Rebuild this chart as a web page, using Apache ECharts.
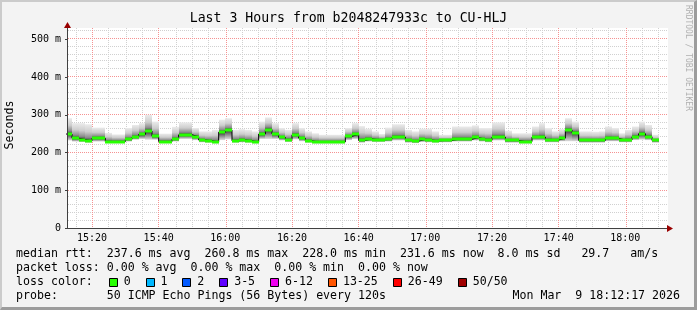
<!DOCTYPE html>
<html><head><meta charset="utf-8">
<script src="https://cdn.jsdelivr.net/npm/echarts@6/dist/echarts.min.js"></script>
<style>
html,body{margin:0;padding:0;background:#f3f3f3;}
#c{width:697px;height:310px;position:absolute;left:0;top:0;}
#frame{position:absolute;left:0;top:0;width:697px;height:310px;box-sizing:border-box;border-style:solid;border-width:2px 3px 3px 2px;border-color:#cbcbcb #9c9c9c #9c9c9c #cbcbcb;pointer-events:none;}
</style>
</head><body><div id="c"></div><div id="frame"></div>
<script>
// ---------------- data ----------------
const titleText = 'Last 3 Hours from b2048247933c to CU-HLJ';
const yAxisTitle = 'Seconds';
const watermark = 'RRDTOOL / TOBI OETIKER';
const firstSegmentStart = 12;   // minutes after 15:00
const stepMinutes = 2;
const xMin = 12.5;              // left edge of plot (minutes after 15:00)
const xMax = xMin + 180;        // 3 hours
const xTickValues = [20, 40, 60, 80, 100, 120, 140, 160, 180];
const xTickLabels = ['15:20', '15:40', '16:00', '16:20', '16:40', '17:00', '17:20', '17:40', '18:00'];
const yTickValues = [0, 100, 200, 300, 400, 500];
const yTickLabels = ['0', '100 m', '200 m', '300 m', '400 m', '500 m'];

// median rtt (ms) per 2-minute step
const median = [
  249, 238, 234, 231, 238, 238, 229, 229, 229, 235,
  241, 248, 257, 243, 229, 229, 235, 247, 247, 242,
  233, 231, 228, 254, 260, 231, 233, 231, 228, 249,
  261, 249, 240, 234, 247, 238, 231, 228, 228, 228,
  228, 228, 243, 248, 232, 236, 234, 234, 235, 241,
  241, 232, 230, 235, 233, 231, 232, 232, 235, 235,
  235, 240, 235, 233, 241, 241, 232, 232, 229, 229,
  241, 241, 233, 233, 238, 260, 253, 232, 232, 232,
  232, 238, 238, 233, 233, 242, 250, 242, 232
];
// top of smoke (slowest ping, ms)
const smokeTop = [
  291, 278, 278, 275, 266, 266, 252, 248, 248, 265,
  273, 278, 300, 282, 250, 250, 268, 280, 280, 265,
  256, 256, 260, 287, 291, 260, 262, 260, 256, 282,
  293, 278, 265, 260, 278, 265, 256, 251, 247, 247,
  247, 247, 265, 278, 270, 263, 256, 249, 266, 275,
  275, 260, 256, 263, 263, 256, 247, 247, 269, 269,
  269, 272, 265, 265, 280, 280, 258, 251, 251, 251,
  269, 278, 265, 256, 262, 291, 282, 256, 256, 255,
  256, 269, 265, 251, 260, 269, 282, 273, 247
];
// bottom of smoke (fastest ping, ms)
const smokeBottom = [
  232, 229, 228, 226, 229, 229, 225, 225, 225, 229,
  234, 236, 234, 234, 225, 225, 229, 236, 236, 233,
  227, 226, 224, 233, 235, 226, 227, 226, 224, 236,
  236, 236, 232, 228, 235, 230, 226, 224, 224, 224,
  224, 224, 233, 236, 226, 229, 228, 228, 229, 232,
  232, 226, 225, 228, 227, 226, 227, 227, 229, 229,
  229, 232, 229, 227, 232, 232, 226, 226, 224, 224,
  232, 232, 227, 227, 230, 230, 230, 226, 226, 226,
  226, 230, 230, 227, 227, 233, 234, 233, 226
];

const statLines = [
  'median rtt:  237.6 ms avg  260.8 ms max  228.0 ms min  231.6 ms now  8.0 ms sd   29.7   am/s',
  'packet loss: 0.00 % avg  0.00 % max  0.00 % min  0.00 % now',
  'loss color:',
  'probe:       50 ICMP Echo Pings (56 Bytes) every 120s'
];
const dateText = 'Mon Mar  9 18:12:17 2026';
const lossLabels = ['0', '1', '2', '3-5', '6-12', '13-25', '26-49', '50/50'];
const lossColors = ['#26ff00', '#00b8ff', '#0059ff', '#5e00ff', '#ee00ee', '#ff5500', '#ff0000', '#a10000'];

// ---------------- layout ----------------
const gridLeft = 67, gridTop = 28, gridWidth = 600, gridHeight = 200;
const mono = '"DejaVu Sans Mono", "Liberation Mono", monospace';
const axisColor = '#404040';
const arrowColor = '#990000';
const minorGrid = '#d0d0d0';
const majorGrid = '#f59292';

const segStart = k => firstSegmentStart + k * stepMinutes;
const smokeData = median.map((m, k) => [segStart(k), segStart(k) + stepMinutes, smokeBottom[k], smokeTop[k], m]);
const stepData = median.map((m, k) => [segStart(k), m]);
stepData.push([segStart(median.length - 1) + stepMinutes, median[median.length - 1]]);

// grid line positions (axis values)
const vMinor = [], hMinor = [];
for (let v = 15; v < xMax; v += 5) if (v % 20 !== 0) vMinor.push([v, 0]);
for (let v = 20; v < 530; v += 20) if (v % 100 !== 0) hMinor.push([xMin, v]);
const vMajor = xTickValues.map(v => [v, 0]);
const hMajor = yTickValues.filter(v => v > 0).map(v => [xMin, v]);

// dotted grid lines drawn as 1px dots on an even pixel lattice
const evenRound = p => 2 * Math.round(p / 2);
const evenFloor = p => 2 * Math.floor(p / 2);
function gridSeries(data, vertical, color, z) {
  return {
    type: 'custom', z, silent: true, data,
    encode: { x: 0, y: 1 },
    renderItem: (params, api) => {
      const cs = params.coordSys;
      const p = api.coord([api.value(0), api.value(1)]);
      const children = [];
      if (vertical) {
        const x = evenRound(p[0]);
        for (let y = cs.y; y < cs.y + cs.height; y += 2) children.push({ type: 'rect', shape: { x, y, width: 1, height: 1 }, style: { fill: color } });
      } else {
        const y = evenFloor(p[1]);
        for (let x = cs.x + 1; x < cs.x + cs.width; x += 2) children.push({ type: 'rect', shape: { x, y, width: 1, height: 1 }, style: { fill: color } });
      }
      return { type: 'group', children };
    }
  };
}

// graphic elements (texts, legend boxes, arrows)
const textFont = '11.6px ' + mono;
const graphics = [];
graphics.push({ type: 'rect', z: 0, shape: { x: gridLeft, y: gridTop, width: gridWidth + 1, height: gridHeight }, style: { fill: '#ffffff' }, silent: true });
graphics.push({ type: 'text', z: 10, style: { text: titleText, x: 348.5, y: 19, font: '13.2px ' + mono, fill: '#000', align: 'center', verticalAlign: 'middle', textAlign: 'center', textVerticalAlign: 'middle' } });
graphics.push({ type: 'text', z: 10, x: 10, y: 125, rotation: Math.PI / 2, style: { text: yAxisTitle, x: 0, y: 0, font: '11.6px ' + mono, fill: '#000', align: 'center', verticalAlign: 'middle', textAlign: 'center', textVerticalAlign: 'middle' } });
graphics.push({ type: 'text', z: 10, x: 688, y: 5, rotation: -Math.PI / 2, style: { text: watermark, x: 0, y: 0, font: '8px ' + mono, fill: '#b0b0b0', align: 'left', verticalAlign: 'middle', textAlign: 'left', textVerticalAlign: 'middle' } });
const lineY = [254.3, 268.2, 282.2, 296.2];
statLines.forEach((t, i) => {
  graphics.push({ type: 'text', z: 10, style: { text: t, x: 16, y: lineY[i], font: textFont, fill: '#000', align: 'left', verticalAlign: 'middle', textAlign: 'left', textVerticalAlign: 'middle' } });
});
graphics.push({ type: 'text', z: 10, style: { text: dateText, x: 680, y: lineY[3], font: textFont, fill: '#000', align: 'right', verticalAlign: 'middle', textAlign: 'right', textVerticalAlign: 'middle' } });
let bx = 108.7;
const charW = 7.02;
lossLabels.forEach((lab, i) => {
  graphics.push({ type: 'rect', z: 10, shape: { x: Math.round(bx) + 0.5, y: 278.5, width: 8, height: 8 }, style: { fill: lossColors[i], stroke: '#000', lineWidth: 1 } });
  graphics.push({ type: 'text', z: 10, style: { text: lab, x: bx + 15, y: lineY[2], font: textFont, fill: '#000', align: 'left', verticalAlign: 'middle', textAlign: 'left', textVerticalAlign: 'middle' } });
  bx = bx + 15 + lab.length * charW + 14.8;
});
// axis arrows
graphics.push({ type: 'polygon', z: 10, shape: { points: [[gridLeft - 3, gridTop], [gridLeft + 4, gridTop], [gridLeft + 0.5, gridTop - 6]] }, style: { fill: arrowColor } });
graphics.push({ type: 'polygon', z: 10, shape: { points: [[gridLeft + gridWidth, gridTop + gridHeight - 3], [gridLeft + gridWidth, gridTop + gridHeight + 4], [gridLeft + gridWidth + 6, gridTop + gridHeight + 0.5]] }, style: { fill: arrowColor } });

const option = {
  animation: false,
  backgroundColor: '#f3f3f3',
  grid: { left: gridLeft, top: gridTop, width: gridWidth, height: gridHeight, containLabel: false },
  graphic: graphics,
  xAxis: {
    type: 'value', min: xMin, max: xMax, z: 8,
    axisLine: { show: true, lineStyle: { color: axisColor, width: 1 } },
    axisTick: { show: false },
    splitLine: { show: false },
    axisLabel: {
      customValues: xTickValues,
      margin: 5, fontFamily: mono, fontSize: 10, color: '#000',
      formatter: v => { const i = xTickValues.findIndex(t => Math.abs(t - v) < 1e-6); return i >= 0 ? xTickLabels[i] : ''; }
    }
  },
  yAxis: {
    type: 'value', min: 0, max: 530, interval: 100, z: 8,
    axisLine: { show: true, lineStyle: { color: axisColor, width: 1 } },
    axisTick: { show: true, length: 2, lineStyle: { color: axisColor } },
    splitLine: { show: false },
    axisLabel: {
      showMaxLabel: false, margin: 6, fontFamily: mono, fontSize: 10, color: '#000',
      formatter: v => { const i = yTickValues.findIndex(t => Math.abs(t - v) < 1e-6); return i >= 0 ? yTickLabels[i] : ''; }
    }
  },
  series: [
    gridSeries(vMinor, true, minorGrid, 1),
    gridSeries(hMinor, false, minorGrid, 1),
    gridSeries(vMajor, true, majorGrid, 2),
    gridSeries(hMajor, false, majorGrid, 2),
    {
      type: 'custom', z: 3, silent: true,
      data: smokeData,
      encode: { x: [0, 1], y: [2, 3] },
      renderItem: (params, api) => {
        const cs = params.coordSys;
        const pTop = api.coord([api.value(0), api.value(3)]);
        const pBot = api.coord([api.value(1), api.value(2)]);
        const pMed = api.coord([api.value(0), api.value(4)]);
        const left = Math.round(Math.max(pTop[0], cs.x));
        const right = Math.round(Math.min(pBot[0], cs.x + cs.width));
        const top = pTop[1], bottom = pBot[1];
        const f = Math.min(0.98, Math.max(0.02, (pMed[1] - top) / (bottom - top)));
        return {
          type: 'rect',
          shape: { x: left, y: top, width: right - left, height: bottom - top },
          style: {
            fill: {
              type: 'linear', x: 0, y: 0, x2: 0, y2: 1, global: false,
              colorStops: [
                { offset: 0, color: '#ebebeb' },
                { offset: f * 0.45, color: '#cdcdcd' },
                { offset: f * 0.8, color: '#8c8c8c' },
                { offset: f, color: '#333333' },
                { offset: f + (1 - f) * 0.4, color: '#7a7a7a' },
                { offset: 1, color: '#dcdcdc' }
              ]
            }
          }
        };
      }
    },
    {
      type: 'line', z: 4, silent: true, step: 'end', symbol: 'none', data: stepData,
      lineStyle: { color: '#000000', width: 1 }
    },
    {
      type: 'custom', z: 5, silent: true,
      data: smokeData,
      encode: { x: [0, 1], y: 4 },
      renderItem: (params, api) => {
        const cs = params.coordSys;
        const a = api.coord([api.value(0), api.value(4)]);
        const b = api.coord([api.value(1), api.value(4)]);
        const left = Math.round(Math.max(a[0], cs.x));
        const right = Math.round(Math.min(b[0], cs.x + cs.width));
        return { type: 'rect', shape: { x: left, y: Math.round(a[1]) - 1.5, width: right - left, height: 3 }, style: { fill: '#26ff00' } };
      }
    }
  ]
};
const chart = echarts.init(document.getElementById('c'), null, { renderer: 'canvas' });
chart.setOption(option);
</script>
</body></html>
